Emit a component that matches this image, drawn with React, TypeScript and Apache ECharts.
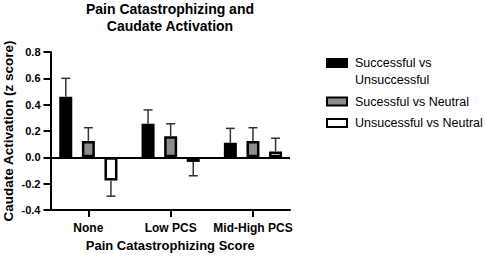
import React, { useEffect, useRef } from "react";
import * as echarts from "echarts";

const categories = ["None", "Low PCS", "Mid-High PCS"];
const seriesNames = ["Successful vs\nUnsuccessful", "Sucessful vs Neutral", "Unsucessful vs Neutral"];
const successfulVsUnsuccessful = [0.46, 0.255, 0.11];
const successfulVsUnsuccessfulErr = [0.14, 0.105, 0.11];
const sucessfulVsNeutral = [0.125, 0.16, 0.125];
const sucessfulVsNeutralErr = [0.1, 0.095, 0.1];
const unsucessfulVsNeutral = [-0.175, -0.035, 0.045];
const unsucessfulVsNeutralErr = [0.12, 0.105, 0.1];
const yTicks = { min: -0.4, max: 0.8, interval: 0.2 };

const FONT = "'Liberation Sans', Arial, Helvetica, sans-serif";
const BAR_W = 13;
const BAR_GAP = 9.6;
const fills = ["#000000", "#8c8c8c", "#ffffff"];

export default function App() {
  const ref = useRef<HTMLDivElement>(null);
  useEffect(() => {
    if (!ref.current) return;
    const chart = echarts.init(ref.current, null, { renderer: "svg" });
    const values = [successfulVsUnsuccessful, sucessfulVsNeutral, unsucessfulVsNeutral];
    const errs = [successfulVsUnsuccessfulErr, sucessfulVsNeutralErr, unsucessfulVsNeutralErr];
    const catIdx = categories.map((_, i) => i);

    const barSeries: any[] = values.map((vals, s) => ({
      type: "bar",
      name: seriesNames[s],
      data: vals.map((v, i) => [i, v]),
      barWidth: BAR_W,
      barGap: (BAR_GAP / BAR_W) * 100 + "%",
      itemStyle: { color: fills[s], borderColor: "#000", borderWidth: 2.5 },
      z: 3,
      ...(s === 0
        ? {
            markLine: {
              silent: true,
              symbol: ["none", "none"],
              label: { show: false },
              lineStyle: { color: "#000", width: 2, type: "solid" },
              data: [{ yAxis: 0 }],
              z: 2,
            },
          }
        : {}),
    }));

    const errSeries: any[] = values.map((vals, s) => ({
      type: "custom",
      name: "err" + s,
      data: vals.map((v, i) => [i, v, errs[s][i]]),
      z: 4,
      renderItem: (params: any, api: any) => {
        const x = api.value(0);
        const v = api.value(1);
        const e = api.value(2);
        const end = v >= 0 ? v + e : v - e;
        const p0 = api.coord([x, v]);
        const p1 = api.coord([x, end]);
        const cx = p0[0] + (s - 1) * (BAR_W + BAR_GAP);
        const st = { stroke: "#333", lineWidth: 1.5 };
        return {
          type: "group",
          children: [
            { type: "line", shape: { x1: cx, y1: p0[1], x2: cx, y2: p1[1] }, style: st },
            { type: "line", shape: { x1: cx - 4.5, y1: p1[1], x2: cx + 4.5, y2: p1[1] }, style: st },
          ],
        };
      },
    }));

    chart.setOption({
      animation: false,
      textStyle: { fontFamily: FONT, color: "#000" },
      title: {
        text: "Pain Catastrophizing and\nCaudate Activation",
        left: 170,
        top: 0,
        padding: 0,
        textAlign: "center",
        textVerticalAlign: "top",
        textStyle: { fontFamily: FONT, fontSize: 14, fontWeight: "bold", color: "#000", lineHeight: 17 },
      },
      legend: {
        orient: "vertical",
        left: 326,
        top: 37.5,
        padding: 0,
        itemGap: 4.5,
        itemWidth: 20,
        itemHeight: 8,
        icon: "rect",
        itemStyle: { borderColor: "#000", borderWidth: 2 },
        formatter: (name: string) => (name === seriesNames[0] ? "\n" + name : name),
        textStyle: { fontFamily: FONT, fontSize: 12.5, color: "#000", lineHeight: 17, padding: [0, 0, 0, 3] },
        data: seriesNames,
      },
      grid: { left: 48, right: 196, top: 52, bottom: 44 },
      xAxis: {
        type: "value",
        min: -0.46,
        max: 2.45,
        name: "Pain Catastrophizing Score",
        nameLocation: "middle",
        nameGap: 29,
        nameTextStyle: { fontFamily: FONT, fontSize: 13, fontWeight: "bold", color: "#000" },
        axisLine: { show: true, onZero: false, lineStyle: { color: "#000", width: 2 } },
        axisTick: { show: true, customValues: catIdx, length: 7, lineStyle: { color: "#000", width: 2 } },
        axisLabel: {
          customValues: catIdx,
          formatter: (v: number) => categories[Math.round(v)] ?? "",
          margin: 12,
          fontFamily: FONT,
          fontSize: 12,
          fontWeight: "bold",
          color: "#000",
        },
        splitLine: { show: false },
      },
      yAxis: {
        type: "value",
        min: yTicks.min,
        max: yTicks.max,
        interval: yTicks.interval,
        name: "Caudate Activation (z score)",
        nameLocation: "middle",
        nameGap: 35.5,
        nameTextStyle: { fontFamily: FONT, fontSize: 13.5, fontWeight: "bold", color: "#000" },
        axisLine: { show: true, onZero: false, lineStyle: { color: "#000", width: 2 } },
        axisTick: { show: true, length: 7, lineStyle: { color: "#000", width: 2 } },
        axisLabel: {
          formatter: (v: number) => (Math.abs(v) < 1e-9 ? "0.0" : v.toFixed(1)),
          margin: 10,
          fontFamily: FONT,
          fontSize: 11,
          fontWeight: "bold",
          color: "#000",
        },
        splitLine: { show: false },
      },
      series: [...barSeries, ...errSeries],
    });
    return () => chart.dispose();
  }, []);
  return (
    <div
      ref={ref}
      style={{ position: "fixed", left: 0, top: 0, width: 486, height: 257, background: "#fff" }}
    />
  );
}
